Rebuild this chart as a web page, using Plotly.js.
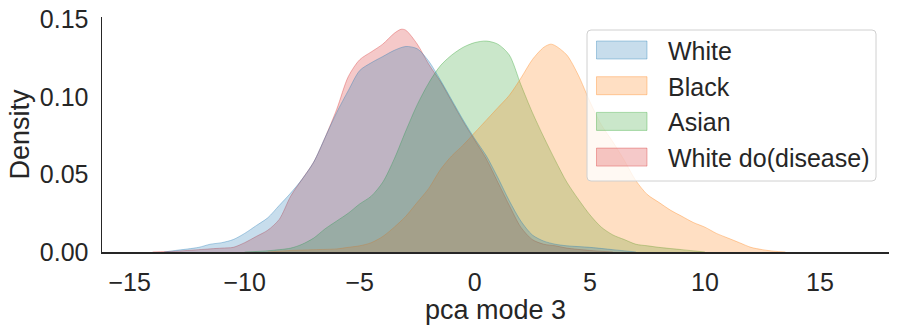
<!DOCTYPE html>
<html>
<head>
<meta charset="utf-8">
<script src="https://cdn.plot.ly/plotly-3.0.1.min.js"></script>
<style>
  body { margin: 0; padding: 0; background: #fff; }
  #chart { width: 899px; height: 330px; }
</style>
</head>
<body>
<div id="chart"></div>
<script>
// density curves (x = pca mode 3, y = density)
var whiteX = [-13.5, -13, -12, -11.5, -11, -10.5, -10, -9.5, -9, -8.5, -8, -7.5, -7, -6.5, -6, -5.5, -5, -4.5, -4, -3.5, -3, -2.5, -2, -1.5, -1, -0.5, 0, 0.5, 1, 1.5, 2, 2.5, 3, 3.5, 4, 5, 6, 7];
var whiteY = [0, 0.001, 0.003, 0.005, 0.006, 0.008, 0.012, 0.017, 0.022, 0.03, 0.038, 0.047, 0.058, 0.074, 0.09, 0.104, 0.117, 0.122, 0.126, 0.13, 0.1325, 0.131, 0.123, 0.111, 0.098, 0.085, 0.073, 0.062, 0.048, 0.033, 0.02, 0.011, 0.007, 0.005, 0.004, 0.003, 0.0015, 0];

var blackX = [-9, -8, -7, -6, -5.5, -5, -4.5, -4, -3.5, -3, -2.5, -2, -1.5, -1, -0.5, 0, 0.5, 1, 1.5, 2, 2.5, 3, 3.3, 3.5, 4, 4.5, 5, 5.5, 6, 6.5, 7, 7.5, 8, 8.5, 9, 9.5, 10, 10.5, 11, 11.5, 12, 12.5, 13, 13.5];
var blackY = [0, 0.001, 0.0015, 0.002, 0.003, 0.004, 0.006, 0.01, 0.016, 0.023, 0.032, 0.041, 0.053, 0.062, 0.069, 0.077, 0.085, 0.093, 0.101, 0.112, 0.124, 0.132, 0.134, 0.133, 0.127, 0.114, 0.097, 0.082, 0.071, 0.059, 0.046, 0.037, 0.032, 0.027, 0.023, 0.019, 0.016, 0.012, 0.009, 0.006, 0.003, 0.0015, 0.0005, 0];

var asianX = [-10, -9, -8, -7.5, -7, -6.5, -6, -5.5, -5, -4.5, -4, -3.5, -3, -2.5, -2, -1.5, -1, -0.5, 0, 0.5, 1, 1.5, 2, 2.5, 3, 3.5, 4, 4.5, 5, 5.5, 6, 6.5, 7, 7.5, 8, 9, 10];
var asianY = [0, 0.0008, 0.0025, 0.005, 0.009, 0.015, 0.02, 0.025, 0.031, 0.036, 0.045, 0.06, 0.078, 0.095, 0.109, 0.12, 0.127, 0.132, 0.135, 0.136, 0.134, 0.127, 0.108, 0.09, 0.074, 0.059, 0.045, 0.034, 0.024, 0.016, 0.011, 0.008, 0.005, 0.004, 0.003, 0.0015, 0];

var diseaseX = [-14, -13, -12, -11, -10.5, -10, -9.5, -9, -8.5, -8, -7.5, -7, -6.5, -6, -5.5, -5, -4.5, -4, -3.5, -3.2, -3, -2.5, -2, -1.5, -1, -0.5, 0, 0.5, 1, 1.5, 2, 2.5, 3, 3.5, 4, 5, 6];
var diseaseY = [0, 0.0005, 0.0015, 0.0025, 0.003, 0.006, 0.01, 0.014, 0.021, 0.036, 0.047, 0.058, 0.074, 0.092, 0.113, 0.124, 0.129, 0.134, 0.141, 0.1436, 0.143, 0.134, 0.121, 0.11, 0.097, 0.084, 0.072, 0.06, 0.045, 0.03, 0.016, 0.008, 0.005, 0.004, 0.0025, 0.001, 0];

var names = ["White", "Black", "Asian", "White do(disease)"];
var colors = ["31,119,180", "255,127,14", "44,160,44", "214,39,40"];
var xs = [whiteX, blackX, asianX, diseaseX];
var ys = [whiteY, blackY, asianY, diseaseY];

// plot area in pixels
var W = 899, H = 330;
var mL = 102, mR = 10, mT = 17, mB = 78;
var pw = W - mL - mR, ph = H - mT - mB;
function px2x(p) { return (p - mL) / pw; }
function px2y(p) { return (H - mB - p) / ph; }

var fontFam = "Liberation Sans, Arial, sans-serif";
var ink = "#262626";

// last in the list is drawn first (seaborn stacking order)
var traces = [];
for (var i = names.length - 1; i >= 0; i--) {
  traces.push({
    x: xs[i],
    y: ys[i],
    name: names[i],
    type: "scatter",
    mode: "lines",
    fill: "tozeroy",
    fillcolor: "rgba(" + colors[i] + ",0.25)",
    line: { color: "rgba(" + colors[i] + ",0.35)", width: 1, shape: "spline", smoothing: 0.8 },
    showlegend: false,
    hoverinfo: "skip"
  });
}

// legend box (rounded) + patches + labels
var shapes = [];
var annotations = [];
var bx0 = px2x(587), bx1 = px2x(876), byT = px2y(30), byB = px2y(181);
var rx = 4 / pw, ry = 4 / ph;
shapes.push({
  type: "path", xref: "paper", yref: "paper", layer: "above",
  path: "M" + (bx0 + rx) + "," + byT + " L" + (bx1 - rx) + "," + byT +
        " Q" + bx1 + "," + byT + " " + bx1 + "," + (byT - ry) +
        " L" + bx1 + "," + (byB + ry) +
        " Q" + bx1 + "," + byB + " " + (bx1 - rx) + "," + byB +
        " L" + (bx0 + rx) + "," + byB +
        " Q" + bx0 + "," + byB + " " + bx0 + "," + (byB + ry) +
        " L" + bx0 + "," + (byT - ry) +
        " Q" + bx0 + "," + byT + " " + (bx0 + rx) + "," + byT + " Z",
  fillcolor: "rgba(255,255,255,0.8)",
  line: { color: "#d0d0d0", width: 1 }
});
for (var k = 0; k < names.length; k++) {
  var cy = 50 + 35.7 * k;
  shapes.push({
    type: "rect", xref: "paper", yref: "paper", layer: "above",
    x0: px2x(596.5), x1: px2x(647), y0: px2y(cy + 9), y1: px2y(cy - 9),
    fillcolor: "rgba(" + colors[k] + ",0.25)",
    line: { color: "rgba(" + colors[k] + ",0.35)", width: 1 }
  });
  annotations.push({
    xref: "paper", yref: "paper", x: px2x(665.5), y: px2y(cy + 1),
    xanchor: "left", yanchor: "middle", showarrow: false,
    text: names[k],
    font: { family: fontFam, size: 25, color: ink }
  });
}

var layout = {
  width: W,
  height: H,
  margin: { l: mL, r: mR, t: mT, b: mB },
  paper_bgcolor: "#ffffff",
  plot_bgcolor: "#ffffff",
  font: { family: fontFam, size: 25, color: ink },
  showlegend: false,
  shapes: shapes,
  annotations: annotations,
  xaxis: {
    range: [-16.2, 18.0],
    tickvals: [-15, -10, -5, 0, 5, 10, 15],
    ticktext: ["\u221215", "\u221210", "\u22125", "0", "5", "10", "15"],
    showline: true, linecolor: ink, linewidth: 1.5,
    showgrid: false, zeroline: false, ticks: "",
    ticklabelstandoff: 7,
    tickfont: { size: 25, color: ink },
    title: { text: "pca mode 3", font: { size: 27, color: ink }, standoff: 0 },
    fixedrange: true
  },
  yaxis: {
    range: [0, 0.1515],
    tickvals: [0, 0.05, 0.1, 0.15],
    ticktext: ["0.00", "0.05", "0.10", "0.15"],
    showline: true, linecolor: ink, linewidth: 1.5,
    showgrid: false, zeroline: false, ticks: "",
    ticklabelstandoff: 7,
    tickfont: { size: 25, color: ink },
    title: { text: "Density", font: { size: 27, color: ink }, standoff: 2 },
    fixedrange: true
  }
};

Plotly.newPlot("chart", traces, layout, { displayModeBar: false, staticPlot: true });
</script>
</body>
</html>
